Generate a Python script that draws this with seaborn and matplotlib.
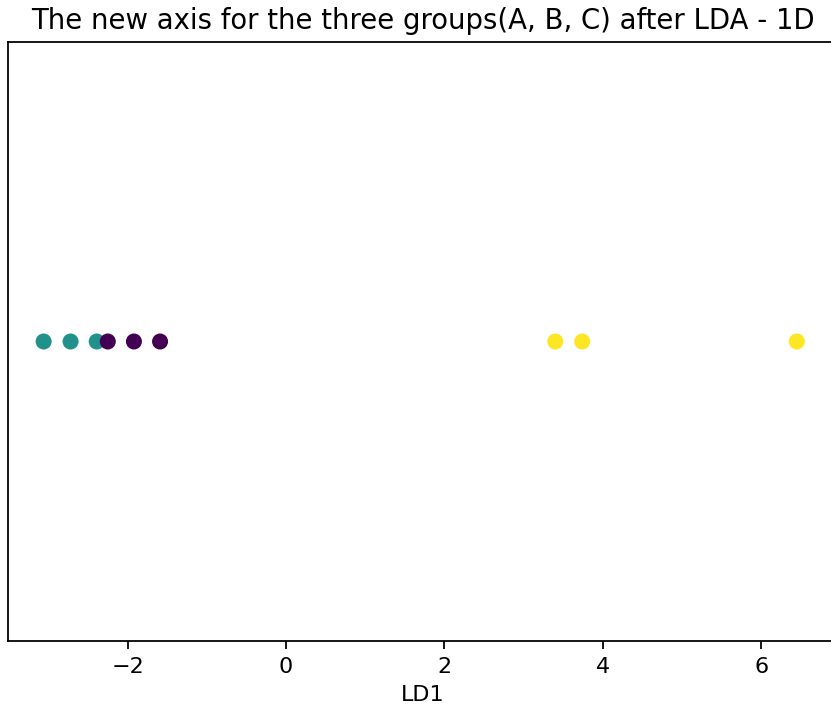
import matplotlib
matplotlib.use('Agg')
import matplotlib.pyplot as plt
import seaborn as sns
import pandas as pd

# projected LD1 values for each sample
ld1 = [-3.06, -2.72, -2.39, -2.25, -1.92, -1.59, 3.40, 3.74, 6.45]
groups = ['B', 'B', 'B', 'A', 'A', 'A', 'C', 'C', 'C']
zeros = [0] * len(ld1)
group_order = ['A', 'B', 'C']
colors = ['#440154', '#21918c', '#fde725']

df = pd.DataFrame({'LD1': ld1, 'y': zeros, 'group': groups})

fig = plt.figure(figsize=(831 / 160, 713 / 160), dpi=160)
# the original is cropped: right spine falls just outside the picture
ax = fig.add_axes([8 / 831, 72 / 713, 830 / 831, 599 / 713])

sns.scatterplot(data=df, x='LD1', y='y', hue='group', hue_order=group_order,
                palette=colors, s=52, linewidth=0, legend=False, ax=ax)

ax.set_xlim(-3.51, 6.97)
ax.spines['right'].set_visible(False)
ax.set_yticks([])
ax.set_ylabel('')
ax.set_xlabel('LD1')
ax.set_title('The new axis for the three groups(A, B, C) after LDA - 1D', fontsize=12.4)

fig.savefig('out.png', dpi=160)
